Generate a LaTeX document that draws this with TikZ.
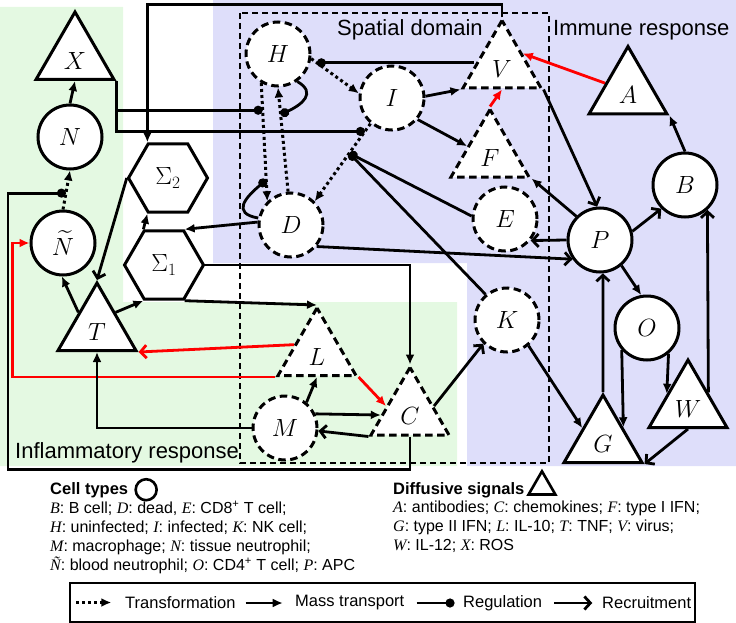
\documentclass[tikz,border=0pt]{standalone}
\usepackage{fontspec}
\setmainfont{Liberation Sans}
\newfontfamily\serifit{Liberation Serif}
\usepackage{amsmath}
\usetikzlibrary{shapes.geometric, arrows.meta, calc, positioning}
\definecolor{inflam}{RGB}{228,249,226}
\definecolor{immune}{RGB}{222,222,250}
\newcommand{\itl}[1]{{\serifit\itshape #1}}
\pgfdeclarelayer{back}
\pgfdeclarelayer{lines}
\pgfsetlayers{back,lines,main}
\tikzset{
    cell/.style={circle, draw, fill=white, line width=3pt, minimum size=64pt, inner sep=0pt, font=\fontsize{24}{24}\selectfont},
    tcell/.style={cell, dash pattern=on 7.5pt off 4.5pt},
    signal/.style={regular polygon, regular polygon sides=3, draw, fill=white, line width=3pt, minimum size=90pt, inner sep=0pt, text height=24.5pt, text depth=0pt, font=\fontsize{24}{24}\selectfont},
    tsignal/.style={signal, dash pattern=on 7.5pt off 4.5pt},
    pool/.style={regular polygon, regular polygon sides=6, draw, fill=white, line width=3pt, minimum size=79pt, inner sep=0pt, font=\fontsize{24}{24}\selectfont},
    mass/.style={line width=2.8pt, -{Latex[length=10pt,width=9pt]}},
    rec/.style={line width=2.8pt, -{Straight Barb[length=6pt,width=13pt]}},
    trans/.style={line width=3pt, dash pattern=on 3pt off 3pt, -{Latex[length=10pt,width=9pt]}},
    reg/.style={line width=2.8pt, -{Circle[length=9pt]}},
    region/.style={font=\fontsize{22}{22}\selectfont, inner sep=0pt, anchor=base west},
    legend/.style={font=\fontsize{16}{18.8}\selectfont, inner sep=0pt, align=left, anchor=north west},
}

\begin{document}
\begin{tikzpicture}[x=1pt, y=-1pt]
    \useasboundingbox (0,0) rectangle (736,623);

    % inflammatory response
    \node(nX) at (75,57) [signal] {$X$};
    \node(nN) at (70,137) [cell] {$N$};
    \node(nNb) at (63,243) [cell] {$\widetilde{N}$};
    \node(nT) at (97,328) [signal] {$T$};
    \node(sigB) at (168,178) [pool] {$\Sigma_2$};
    \node(sigA) at (164,265) [pool] {$\Sigma_1$};
    \node(nL) at (317,353) [tsignal] {$L$};
    \node(nC) at (410,412.5) [tsignal] {$C$};
    \node(nM) at (285,428) [tcell] {$M$};
    % spatial domain
    \node(nH) at (278,54) [tcell] {$H$};
    \node(nI) at (392,98) [tcell] {$I$};
    \node(nD) at (291,225) [tcell] {$D$};
    \node(nV) at (502,65.5) [tsignal] {$V$};
    \node(nF) at (490,154.5) [tsignal] {$F$};
    \node(nE) at (505,219) [tcell] {$E$};
    \node(nK) at (507,320) [tcell] {$K$};
    % immune response
    \node(nA) at (628,91.5) [signal] {$A$};
    \node(nB) at (685,185) [cell] {$B$};
    \node(nP) at (600,240) [cell] {$P$};
    \node(nO) at (647,328) [cell] {$O$};
    \node(nW) at (688,405) [signal] {$W$};
    \node(nG) at (603,440) [signal] {$G$};

    \node(spatial) at (337,36) [region] {Spatial domain};
    \node(immresp) at (553,36) [region] {Immune response};
    \node(inflresp) at (15,458) [region] {Inflammatory response};

    % points where regulation acts
    \coordinate(rNN) at ($(nNb.north)!0.42!(nN.south)$);
    \coordinate(rHI) at ($(nH.-8)!0.12!(nI.172)$);
    \coordinate(rHD) at ($(nH.240)!0.23!(nD.135)$);
    \coordinate(rDD) at ($(nH.240)!0.82!(nD.135)$);
    \coordinate(rDH) at ($(nD.95)!0.74!(nH.south)$);
    \coordinate(rID) at ($(nI.230)!0.1!(nD.45)$);
    \coordinate(rIDb) at ($(nI.230)!0.38!(nD.45)$);

    \begin{pgfonlayer}{back}
        \fill[inflam] (0,7) -- (123,7) -- (123,302) -- (457,302) -- (457,466) -- (0,466) -- cycle;
        \fill[immune] (213,0) -- (736,0) -- (736,466) -- (467,466) -- (467,263) -- (213,263) -- cycle;
        \draw[line width=1.2pt, dash pattern=on 6pt off 4pt] (240,13) rectangle (549,463);
    \end{pgfonlayer}

    \begin{pgfonlayer}{lines}
    \draw[trans] (nNb.north) -- (nN.south);
    \draw[trans] (nH.-8) -- (nI.172);
    \draw[trans] (nH.240) -- (nD.135);
    \draw[trans] (nD.95) -- (nH.south);
    \draw[trans] (nI.230) -- (nD.45);

    \draw[mass] (nN.north) -- (nX.south);
    \draw[mass] (nV.corner 1) -- ++(0,-13) -| (sigB.120);
    \draw[mass] (nI.3) -- (nV.corner 2);
    \draw[mass] (nI.-40) -- (nF.160);
    \draw[mass, red] (nF.corner 1) -- (nV.south);
    \draw[mass, red] (nA.160) -- (nV.30);
    \draw[mass] (nB.north) -- (nA.corner 3);
    \draw[mass] (nP.135) -- (nF.corner 3);
    \draw[mass] (nD.175) -- (sigA.60);
    \draw[mass] (sigA.120) -- (sigB.240);
    \draw[mass] (sigA.-60) -- (nL.corner 1);
    \draw[mass] (sigA.east) -| (nC.corner 1);
    \draw[mass] (nT.40) -- (sigA.-120);
    \draw[mass] (nT.140) -- (nNb.-92);
    \draw[mass, red] (nL.corner 2) -| ([xshift=-17pt]nNb.west) -- (nNb.west);
    \draw[mass, red] (nL.corner 3) -- (nC.165);
    \draw[mass] (nM.50) -- (nL.south);
    \draw[mass] (nM.25) -- (nC.185);
    \draw[mass] (nM.west) -| (nT.south);
    \draw[mass] (nK.-50) -- (nG.150);
    \draw[mass] (nP.-50) -- (nO.100);
    \draw[mass] (nO.-139) -- ($(nG.corner 1)!0.49!(nG.corner 3)$);
    \draw[mass] (nO.-50) -- ($(nW.corner 1)!0.51!(nW.corner 2)$);

    \draw[rec] (nV.corner 3) -- (nP.95);
    \draw[rec] (nP.15) -- (nB.225);
    \draw[rec] (nP.180) -- (nE.-40);
    \draw[rec] (nD.-40) -- (nP.215);
    \draw[rec] (sigB.west) -- (nT.corner 1);
    \draw[rec, red] (nL.160) -- (nT.corner 3);
    \draw[rec] (nC.corner 2) -- (nM.-5);
    \draw[rec] (nC.15) -- (nK.225);
    \draw[rec] (nG.corner 1) -- (nP.-85);
    \draw[rec] (nW.south) -- (nG.corner 3);
    \draw[rec] ($(nW.corner 1)!0.49!(nW.corner 3)$) -- (nB.-48);

    \draw[reg] (nC.south) -- ++(0,33) -| ([xshift=-58pt]rNN) -- (rNN);
    \draw[reg] (nX.corner 3) |- (rHD);
    \draw[reg] (nX.corner 3) |- (rID);
    \draw[reg] (nV.west |- rHI) -- (rHI);
    \draw[reg] (nE.175) -- (rIDb);
    \draw[reg] (nK.130) -- (rIDb);
    \draw[reg] (nD.168) to[out=170, in=220, looseness=1.8] (rDD);
    \draw[reg] (nH.-55) to[out=-30, in=25, looseness=1.6] (rDH);
    \end{pgfonlayer}

    % legend
    \node(celltitle) at (50,494) [font=\bfseries\fontsize{16.5}{16.5}\selectfont, inner sep=0pt, anchor=base west] {Cell types};
    \node(cellkey) [circle, draw, line width=2.6pt, minimum size=21pt, inner sep=0pt, right=6pt of celltitle] {};
    \node(celllist) at (50,501) [legend] {\itl{B}: B cell; \itl{D}: dead, \itl{E}: CD8\textsuperscript{+} T cell;\\
        \itl{H}: uninfected; \itl{I}: infected; \itl{K}: NK cell;\\
        \itl{M}: macrophage; \itl{N}: tissue neutrophil;\\
        \itl{Ñ}: blood neutrophil; \itl{O}: CD4\textsuperscript{+} T cell; \itl{P}: APC};
    \node(sigtitle) at (393,494) [font=\bfseries\fontsize{16.5}{16.5}\selectfont, inner sep=0pt, anchor=base west] {Diffusive signals};
    \node(sigkey) [regular polygon, regular polygon sides=3, draw, line width=2.6pt, minimum size=31pt, inner sep=0pt, right=1pt of sigtitle, xshift=6pt, yshift=3pt] {};
    \node(siglist) at (393,501) [legend] {\itl{A}: antibodies; \itl{C}: chemokines; \itl{F}: type I IFN;\\
        \itl{G}: type II IFN; \itl{L}: IL-10; \itl{T}: TNF; \itl{V}: virus;\\
        \itl{W}: IL-12; \itl{X}: ROS};

    \node(keybox) at (382.5,602.5) [draw, line width=1.4pt, minimum width=625pt, minimum height=39pt, inner sep=0pt] {};
    \draw[trans] ([xshift=7pt]keybox.west) -- ++(35,0);
    \node(ktrans) at (125,603) [font=\fontsize{16.5}{16.5}\selectfont, inner sep=0pt, anchor=west] {Transformation};
    \draw[mass] ([xshift=10pt]ktrans.east) -- ++(37,0);
    \node(kmass) at (295,603) [font=\fontsize{16.5}{16.5}\selectfont, inner sep=0pt, anchor=west] {Mass transport};
    \draw[reg] ([xshift=12pt]kmass.east) -- ++(38,0);
    \node(kreg) at (463,603) [font=\fontsize{16.5}{16.5}\selectfont, inner sep=0pt, anchor=west] {Regulation};
    \draw[rec] ([xshift=12pt]kreg.east) -- ++(38,0);
    \node(krec) at (602,603) [font=\fontsize{16.5}{16.5}\selectfont, inner sep=0pt, anchor=west] {Recruitment};
\end{tikzpicture}
\end{document}
